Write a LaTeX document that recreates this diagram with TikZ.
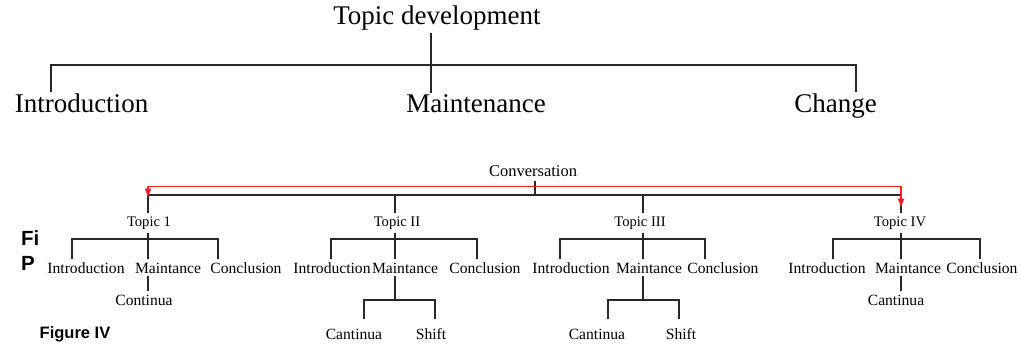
\documentclass[tikz,border=0pt]{standalone}
\usepackage{fontspec}
\setmainfont{Liberation Serif}
\newfontfamily\figfont{Liberation Sans}
\usetikzlibrary{arrows.meta}
\definecolor{arrowred}{RGB}{232,36,40}
\definecolor{linegray}{RGB}{40,40,40}
\begin{document}
\begin{tikzpicture}[x=1pt,y=-1pt,
  ln/.style={line width=1.9pt, linegray},
  lnb/.style={line width=1.7pt, linegray},
  rd/.style={line width=1.4pt, arrowred},
  big/.style={font=\fontsize{27}{30}\selectfont, inner sep=0pt, anchor=base},
  convlab/.style={font=\fontsize{16.5}{19}\selectfont, inner sep=0pt, anchor=base},
  topiclab/.style={font=\fontsize{14.6}{17}\selectfont, inner sep=4pt, anchor=base},
  leaf/.style={font=\fontsize{15.6}{18}\selectfont, inner sep=3pt, anchor=base},
  figlab/.style={font=\figfont\bfseries\fontsize{16.5}{19}\selectfont, inner sep=0pt, anchor=base west}
]
\useasboundingbox (0,0) rectangle (1021,345);

% ---------------- top tree ----------------
\node[big] (td) at (437,25) {Topic development};
\node[big] (intro) at (81.5,113) {Introduction};
\node[big] (maint) at (476,113) {Maintenance};
\node[big] (chg) at (835.5,113) {Change};
\coordinate (hub) at (431,65);
\coordinate (lft) at (51,65);
\coordinate (rgt) at (856,65);
\draw[ln] ([yshift=-2pt]td.south -| hub) -- (hub) -- ([yshift=2pt]hub |- maint.north);
\draw[ln] ([yshift=2pt]lft |- intro.north) -- (lft) -- (rgt) -- ([yshift=2pt]rgt |- chg.north);

% ---------------- left side figure labels ----------------
\node[figlab, font=\figfont\bfseries\fontsize{20.5}{23}\selectfont] (fi) at (21,245) {Fi};
\node[figlab, font=\figfont\bfseries\fontsize{20.5}{23}\selectfont] (pa) at (21,270) {P};
\node[figlab] (fig) at (39.5,338) {Figure IV};

% ---------------- conversation tree ----------------
\node[convlab] (cv) at (533,176) {Conversation};
\coordinate (cbus) at (535,195);
\node[topiclab] (t1) at (149,226) {Topic 1};
\node[topiclab] (t2) at (397,226) {Topic II};
\node[topiclab] (t3) at (640,226) {Topic III};
\node[topiclab] (t4) at (900,226) {Topic IV};
\coordinate (b1) at (148,195);
\coordinate (b2) at (395,195);
\coordinate (b3) at (643,195);
\coordinate (b4) at (901,195);
\draw[lnb] ([yshift=-5pt]cv.south -| cbus) -- (cbus);
\draw[lnb] (b1) -- (b4);
\draw[lnb] (b1) -- ([yshift=-1pt]b1 |- t1.north);
\draw[lnb] (b2) -- ([yshift=-1pt]b2 |- t2.north);
\draw[lnb] (b3) -- ([yshift=-1pt]b3 |- t3.north);
\draw[lnb] (b4) -- ([yshift=-1pt]b4 |- t4.north);

% level 2 leaves
\node[leaf] (i1) at (86,273) {Introduction};
\node[leaf] (m1) at (168,273) {Maintance};
\node[leaf] (c1) at (246,273) {Conclusion};
\node[leaf] (i2) at (332,273) {Introduction};
\node[leaf] (m2) at (405,273) {Maintance};
\node[leaf] (c2) at (485,273) {Conclusion};
\node[leaf] (i3) at (571,273) {Introduction};
\node[leaf] (m3) at (649,273) {Maintance};
\node[leaf] (c3) at (723,273) {Conclusion};
\node[leaf] (i4) at (827,273) {Introduction};
\node[leaf] (m4) at (908,273) {Maintance};
\node[leaf] (c4) at (982,273) {Conclusion};

\foreach \k/\l/\m/\r in {1/72/148/218, 2/331/395/477, 3/560/643/705, 4/833/901/980}{
  \coordinate (jl\k) at (\l,239);
  \coordinate (jm\k) at (\m,239);
  \coordinate (jr\k) at (\r,239);
  \draw[lnb] (t\k.south -| jm\k) -- (jm\k |- m\k.north);
  \draw[lnb] (jl\k |- i\k.north) -- (jl\k) -- (jr\k) -- (jr\k |- c\k.north);
}

% level 3
\node[leaf] (n1) at (144,305) {Continua};
\node[leaf] (n4) at (896,305) {Cantinua};
\draw[lnb] (jm1 |- m1.south) -- (jm1 |- n1.north);
\draw[lnb] (jm4 |- m4.south) -- (jm4 |- n4.north);

\node[leaf] (ca2) at (354,339) {Cantinua};
\node[leaf] (sh2) at (431,339) {Shift};
\node[leaf] (ca3) at (597,339) {Cantinua};
\node[leaf] (sh3) at (681,339) {Shift};
\coordinate (s2) at (395,300);
\coordinate (sl2) at (364,300);
\coordinate (sr2) at (435,300);
\coordinate (s3) at (643,300);
\coordinate (sl3) at (608,300);
\coordinate (sr3) at (679,300);
\draw[lnb] (s2 |- m2.south) -- (s2);
\draw[lnb] ([yshift=6pt]sl2 |- ca2.north) -- (sl2) -- (sr2) -- ([yshift=6pt]sr2 |- sh2.north);
\draw[lnb] (s3 |- m3.south) -- (s3);
\draw[lnb] ([yshift=6pt]sl3 |- ca3.north) -- (sl3) -- (sr3) -- ([yshift=6pt]sr3 |- sh3.north);

% red arrow over the bus
\coordinate (ra) at (148,186.5);
\coordinate (rb) at (901,186.5);
\draw[rd, {Latex[length=9pt,width=7.5pt]}-{Latex[length=9pt,width=7.5pt]}]
  ([yshift=-11pt]ra) -- (ra) -- (rb) -- ([yshift=-21pt]rb);
\end{tikzpicture}
\end{document}
